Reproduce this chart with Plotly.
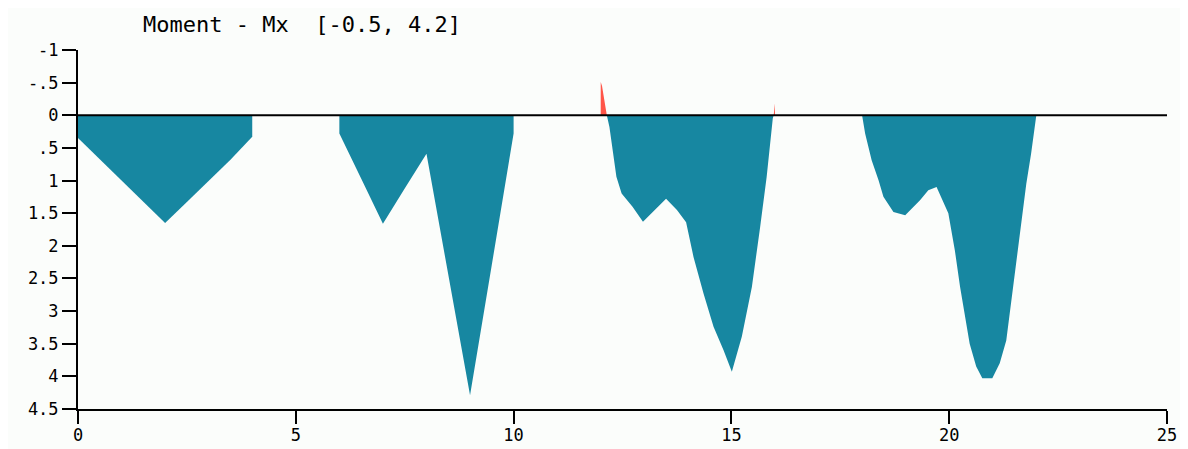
import numpy as np
import plotly.graph_objects as go

# Bending moment Mx along the beam
span1_x = [0.0, 0.0, 1.0, 2.0, 2.5, 3.0, 3.5, 4.0, 4.0]
span1_m = [0.0, 0.35, 1.0, 1.65, 1.33, 1.01, 0.68, 0.33, 0.0]

span2_x = [6.0, 6.0, 6.5, 7.0, 7.5, 8.0, 8.5, 9.0, 9.5, 10.0, 10.0]
span2_m = [0.0, 0.28, 0.97, 1.66, 1.12, 0.59, 2.44, 4.29, 2.29, 0.28, 0.0]

span3_x = [12.0, 12.0, 12.03, 12.07, 12.12, 12.14, 12.2, 12.27, 12.36, 12.48, 12.54,
           12.73, 12.97, 13.25, 13.5, 13.75, 13.96, 14.13, 14.36, 14.59, 14.82,
           15.01, 15.24, 15.47, 15.58, 15.66, 15.81, 15.89, 15.95, 15.97, 16.0, 16.0]
span3_m = [0.0, -0.51, -0.45, -0.28, -0.08, 0.0, 0.18, 0.54, 0.94, 1.2, 1.25,
           1.4, 1.63, 1.45, 1.28, 1.45, 1.64, 2.17, 2.73, 3.24, 3.6,
           3.93, 3.39, 2.63, 2.12, 1.71, 0.94, 0.38, 0.05, 0.0, -0.18, 0.0]

span4_x = [18.0, 18.07, 18.22, 18.38, 18.49, 18.72, 18.99, 19.33, 19.52, 19.71, 19.98,
           20.13, 20.25, 20.36, 20.47, 20.62, 20.76, 20.99, 21.16, 21.31, 21.42,
           21.54, 21.65, 21.77, 21.88, 22.0, 22.0]
span4_m = [0.0, 0.28, 0.69, 1.0, 1.25, 1.48, 1.53, 1.3, 1.15, 1.1, 1.5,
           2.07, 2.63, 3.04, 3.5, 3.85, 4.03, 4.03, 3.8, 3.45, 2.88,
           2.22, 1.71, 1.05, 0.59, 0.03, 0.0]

y_tickvals = [-1, -0.5, 0, 0.5, 1, 1.5, 2, 2.5, 3, 3.5, 4, 4.5]
y_ticktext = ["-1", "-.5", "0", ".5", "1", "1.5", "2", "2.5", "3", "3.5", "4", "4.5"]
x_tickvals = [0, 5, 10, 15, 20, 25]
x_ticktext = ["0", "5", "10", "15", "20", "25"]

title_text = "Moment - Mx  [-0.5, 4.2]"

TEAL = "#1787A1"
RED = "#FF5548"
BG = "#FBFDFB"
FONT = "DejaVu Sans Mono"

fig = go.Figure()
for xs, ms in [(span1_x, span1_m), (span2_x, span2_m), (span3_x, span3_m), (span4_x, span4_m)]:
    m = np.array(ms)
    pos = np.maximum(m, 0)
    neg = np.minimum(m, 0)
    fig.add_trace(go.Scatter(x=xs, y=pos, mode="lines", fill="tozeroy",
                             fillcolor=TEAL, line=dict(width=0, color=TEAL),
                             hoverinfo="skip", showlegend=False))
    if neg.min() < 0:
        fig.add_trace(go.Scatter(x=xs, y=neg, mode="lines", fill="tozeroy",
                                 fillcolor=RED, line=dict(width=0, color=RED),
                                 hoverinfo="skip", showlegend=False))

fig.add_shape(type="line", xref="x", yref="y", x0=0, x1=25, y0=0, y1=0,
              line=dict(color="black", width=2), layer="above")

fig.add_annotation(text=title_text, xref="paper", yref="paper", x=0.206, y=1.07,
                   xanchor="center", yanchor="middle", showarrow=False,
                   font=dict(family=FONT, size=22, color="black"))

fig.update_layout(
    width=1188, height=449,
    margin=dict(l=70, r=29, t=42, b=44),
    paper_bgcolor=BG, plot_bgcolor=BG,
    font=dict(family=FONT, size=17, color="black"),
    showlegend=False,
)
fig.update_xaxes(range=[0, 25], tickvals=x_tickvals, ticktext=x_ticktext,
                 showgrid=False, zeroline=False, showline=True, linecolor="black",
                 linewidth=2, ticks="outside", ticklen=13, tickwidth=2,
                 tickcolor="black", layer="above traces", ticklabelstandoff=-3)
fig.update_yaxes(range=[4.5, -1], tickvals=y_tickvals, ticktext=y_ticktext,
                 showgrid=False, zeroline=False, showline=True, linecolor="black",
                 linewidth=2, ticks="outside", ticklen=14, tickwidth=2,
                 tickcolor="black", layer="above traces")

fig.write_html("out.html")
